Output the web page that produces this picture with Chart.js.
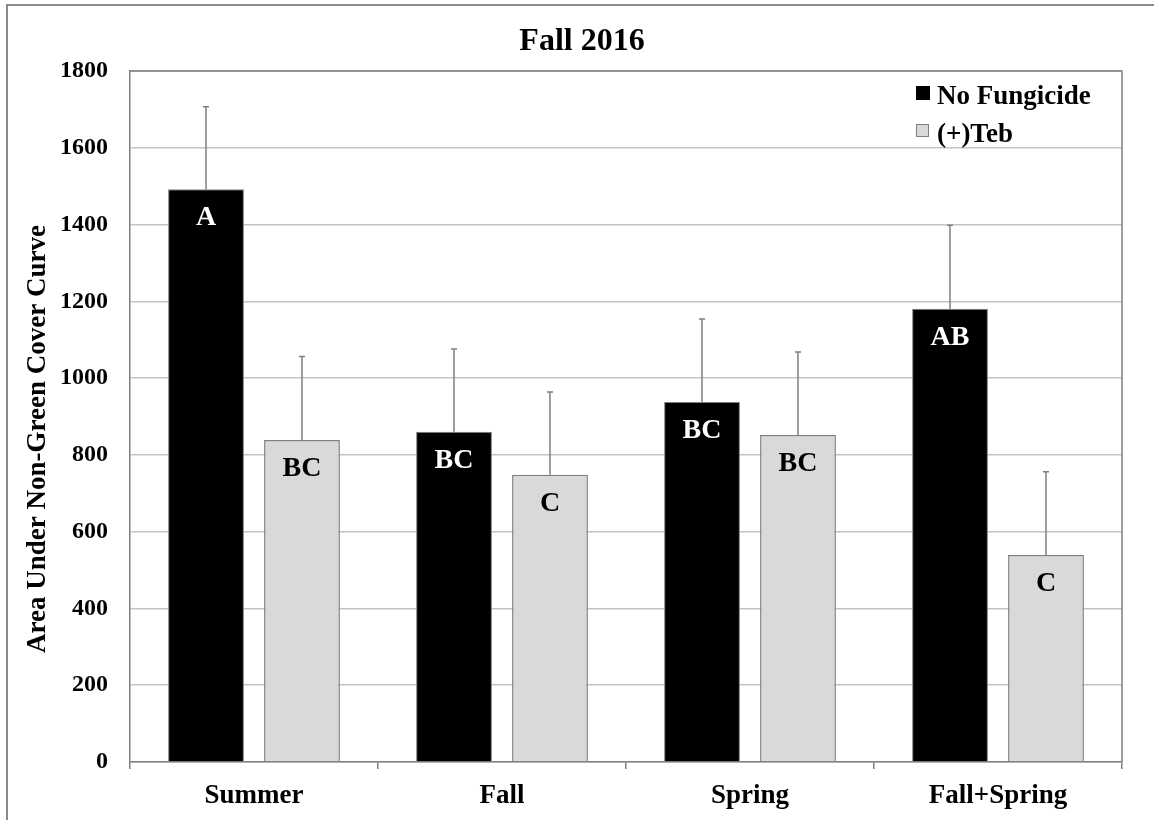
<!DOCTYPE html>
<html>
<head>
<meta charset="utf-8">
<title>Fall 2016</title>
<script src="https://cdn.jsdelivr.net/npm/chart.js@4"></script>
<style>
  html, body { margin: 0; padding: 0; background: #ffffff; }
  #wrap { width: 1154px; height: 820px; }
</style>
</head>
<body>
<div id="wrap"><canvas id="chart" width="1154" height="820"></canvas></div>
<script>
// Application timing treatments
const categories = ['Summer', 'Fall', 'Spring', 'Fall+Spring'];

// Area under non-green cover curve, per treatment
const noFungicide = [1492, 860, 938, 1181];
const teb = [839, 748, 852, 539];

// Standard errors (drawn upward only)
const noFungicideErr = [215, 216, 216, 217];
const tebErr = [217, 216, 216, 217];

// Mean separation letters
const noFungicideLetters = ['A', 'BC', 'BC', 'AB'];
const tebLetters = ['BC', 'C', 'BC', 'C'];

// Axis range
const yMin = 0;
const yMax = 1800;
const yStep = 200;

const chartTitle = 'Fall 2016';
const yTitle = 'Area Under Non-Green Cover Curve';

const SERIF = '"Liberation Serif", "Times New Roman", serif';
const EDGE = '#7f7f7f';

// White page with the thin outer frame
const framePlugin = {
  id: 'frame',
  beforeDraw(chart) {
    const ctx = chart.ctx;
    ctx.save();
    ctx.fillStyle = '#ffffff';
    ctx.fillRect(0, 0, chart.width, chart.height);
    ctx.strokeStyle = '#8a8a8a';
    ctx.lineWidth = 2;
    ctx.strokeRect(7, 5, chart.width + 40, chart.height + 40);
    ctx.restore();
  }
};

// Top and right edges of the plot area
const plotBorderPlugin = {
  id: 'plotBorder',
  beforeDatasetsDraw(chart) {
    const { ctx, chartArea: a } = chart;
    ctx.save();
    ctx.strokeStyle = EDGE;
    ctx.lineWidth = 1.5;
    ctx.beginPath();
    ctx.moveTo(a.left, a.top);
    ctx.lineTo(a.right, a.top);
    ctx.lineTo(a.right, a.bottom);
    ctx.stroke();
    ctx.restore();
  }
};

// Positive error bars from each bar top
const errorBarPlugin = {
  id: 'errorBars',
  afterDatasetsDraw(chart) {
    const ctx = chart.ctx;
    const yScale = chart.scales.y;
    ctx.save();
    ctx.strokeStyle = EDGE;
    ctx.lineWidth = 1.5;
    chart.data.datasets.forEach((ds, i) => {
      const meta = chart.getDatasetMeta(i);
      meta.data.forEach((bar, j) => {
        const top = yScale.getPixelForValue(ds.data[j] + ds.errors[j]);
        ctx.beginPath();
        ctx.moveTo(bar.x, bar.y);
        ctx.lineTo(bar.x, top);
        ctx.moveTo(bar.x - 3, top);
        ctx.lineTo(bar.x + 3, top);
        ctx.stroke();
      });
    });
    ctx.restore();
  }
};

// Significance letters inside each bar
const letterPlugin = {
  id: 'barLetters',
  afterDatasetsDraw(chart) {
    const ctx = chart.ctx;
    ctx.save();
    ctx.font = 'bold 28px ' + SERIF;
    ctx.textAlign = 'center';
    ctx.textBaseline = 'alphabetic';
    chart.data.datasets.forEach((ds, i) => {
      const meta = chart.getDatasetMeta(i);
      ctx.fillStyle = ds.letterColor;
      meta.data.forEach((bar, j) => {
        ctx.fillText(ds.letters[j], bar.x, bar.y + 36);
      });
    });
    ctx.restore();
  }
};

// Title, vertical axis title and legend
const textPlugin = {
  id: 'chartTexts',
  afterDraw(chart) {
    const ctx = chart.ctx;
    ctx.save();
    ctx.fillStyle = '#000000';

    ctx.font = 'bold 32px ' + SERIF;
    ctx.textAlign = 'center';
    ctx.textBaseline = 'alphabetic';
    ctx.fillText(chartTitle, 582, 50);

    ctx.save();
    ctx.translate(45, 439);
    ctx.rotate(-Math.PI / 2);
    ctx.font = 'bold 27px ' + SERIF;
    ctx.textAlign = 'center';
    ctx.textBaseline = 'alphabetic';
    ctx.fillText(yTitle, 0, 0);
    ctx.restore();

    ctx.font = 'bold 27px ' + SERIF;
    ctx.textAlign = 'left';
    ctx.textBaseline = 'alphabetic';
    const rows = [104, 142];
    chart.data.datasets.forEach((ds, i) => {
      const base = rows[i];
      const s = i === 0 ? 14 : 12;
      ctx.fillStyle = ds.backgroundColor;
      ctx.fillRect(916, base - 18, s, s);
      if (i > 0) {
        ctx.strokeStyle = EDGE;
        ctx.lineWidth = 1;
        ctx.strokeRect(916.5, base - 17.5, s, s);
      }
      ctx.fillStyle = '#000000';
      ctx.fillText(ds.label, 937, base);
    });
    ctx.restore();
  }
};

new Chart(document.getElementById('chart'), {
  type: 'bar',
  data: {
    labels: categories,
    datasets: [
      {
        label: 'No Fungicide',
        data: noFungicide,
        errors: noFungicideErr,
        letters: noFungicideLetters,
        letterColor: '#ffffff',
        backgroundColor: '#000000',
        borderColor: EDGE,
        borderWidth: 1,
        categoryPercentage: 0.774,
        barPercentage: 0.79
      },
      {
        label: '(+)Teb',
        data: teb,
        errors: tebErr,
        letters: tebLetters,
        letterColor: '#000000',
        backgroundColor: '#d9d9d9',
        borderColor: EDGE,
        borderWidth: 1.5,
        categoryPercentage: 0.774,
        barPercentage: 0.79
      }
    ]
  },
  options: {
    responsive: false,
    animation: false,
    devicePixelRatio: 1,
    layout: { padding: { left: 0, right: 32, top: 71, bottom: 0 } },
    plugins: {
      legend: { display: false },
      title: { display: false },
      tooltip: { enabled: false }
    },
    scales: {
      x: {
        offset: true,
        grid: {
          offset: true,
          drawOnChartArea: false,
          drawTicks: true,
          tickLength: 7,
          color: EDGE,
          lineWidth: 1.5
        },
        border: { display: true, color: EDGE, width: 1.5 },
        ticks: {
          color: '#000000',
          padding: 11,
          font: { family: SERIF, size: 27, weight: 'bold' }
        },
        afterFit(scale) { scale.height = 58; }
      },
      y: {
        min: yMin,
        max: yMax,
        ticks: {
          stepSize: yStep,
          color: '#000000',
          padding: 22,
          font: { family: SERIF, size: 24, weight: 'bold' },
          callback: (value) => String(value)
        },
        grid: {
          color: '#c4c4c4',
          lineWidth: 1.5,
          drawTicks: false
        },
        border: { display: true, color: EDGE, width: 1.5 },
        afterFit(scale) { scale.width = 130; }
      }
    }
  },
  plugins: [framePlugin, plotBorderPlugin, errorBarPlugin, letterPlugin, textPlugin]
});
</script>
</body>
</html>
